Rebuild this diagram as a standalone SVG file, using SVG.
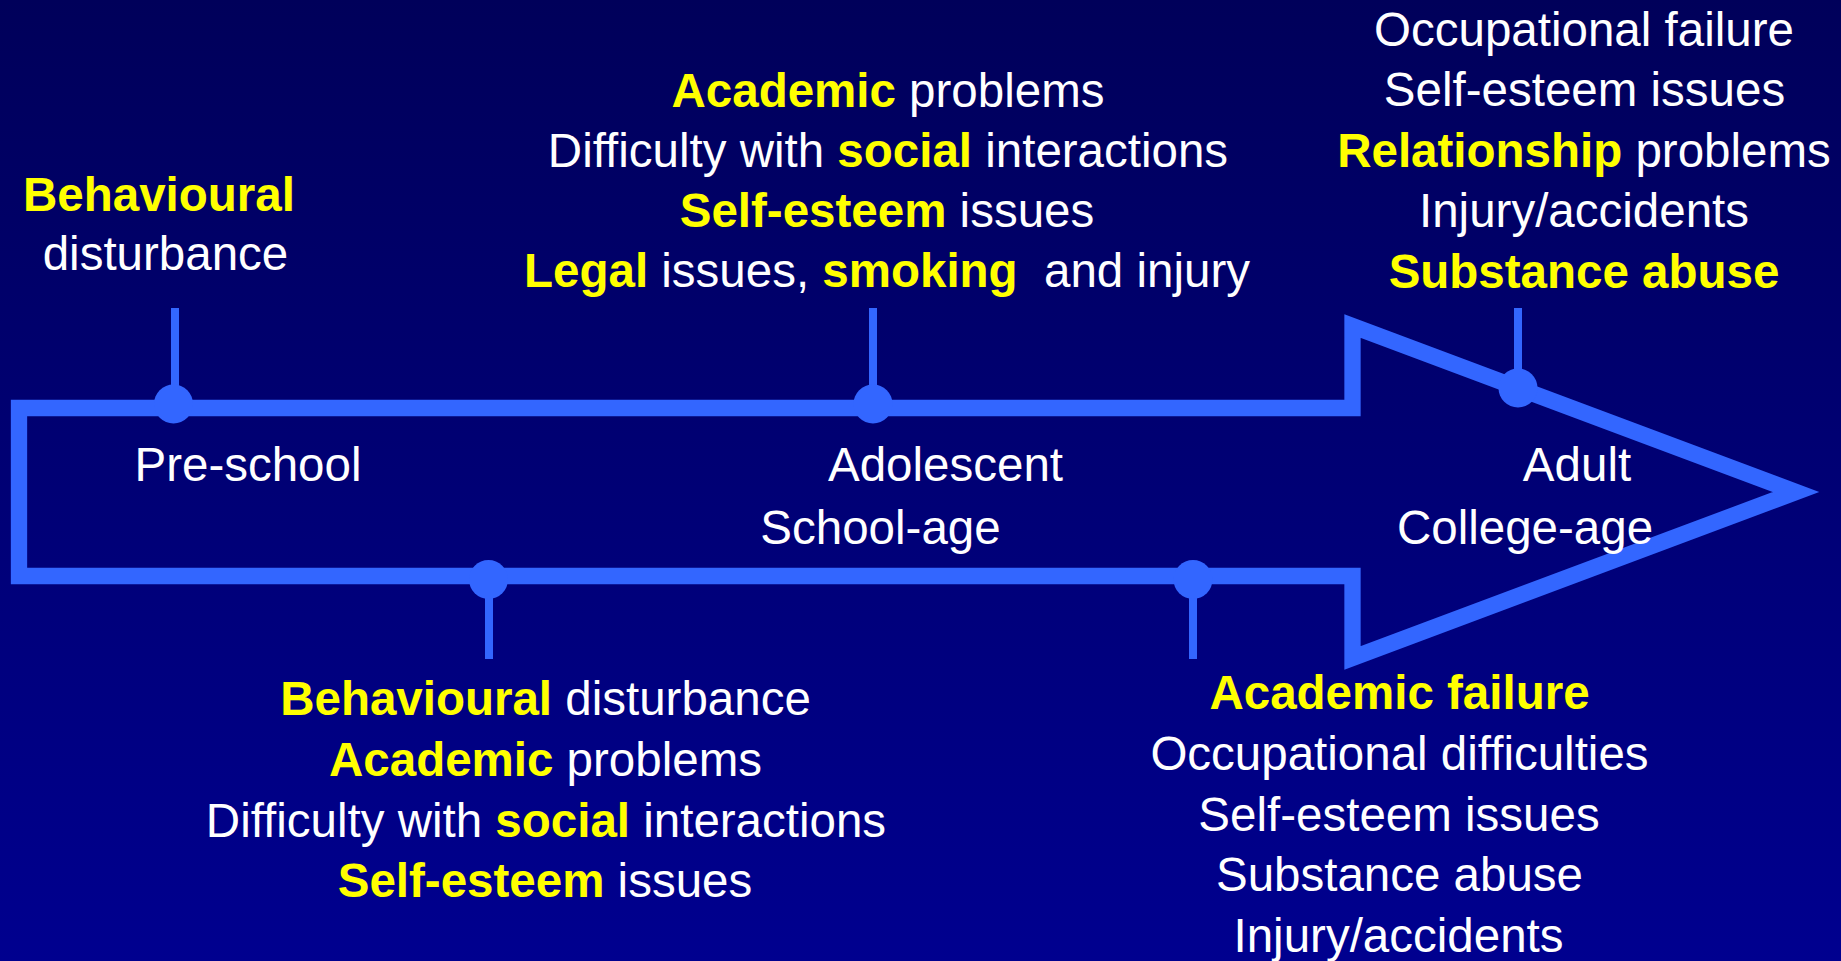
<svg xmlns="http://www.w3.org/2000/svg" width="1841" height="961" viewBox="0 0 1841 961">
  <defs>
    <linearGradient id="bg" x1="0" y1="0" x2="0" y2="1">
      <stop offset="0" stop-color="#00005a"/>
      <stop offset="1" stop-color="#00008f"/>
    </linearGradient>
    <style>
      text { font-family: "Liberation Sans", Arial, Helvetica, sans-serif; font-size: 47.5px; fill: #ffffff; text-anchor: middle; }
      .hl { fill: #ffff00; font-weight: bold; }
      .arrow { fill: none; stroke: #3366ff; stroke-width: 16.3; stroke-linejoin: miter; stroke-miterlimit: 10; }
      .tick { stroke: #3366ff; stroke-width: 8; fill: none; }
      .dot { fill: #3366ff; }
    </style>
  </defs>

  <rect x="0" y="0" width="1841" height="961" fill="url(#bg)"/>

  <!-- timeline arrow outline -->
  <g id="timeline">
    <path class="arrow" d="M19,408 H1352.5 V326 L1796,492 L1352.5,658 V576 H19 Z"/>
  </g>

  <!-- ticks joining each milestone dot to its list of outcomes -->
  <g id="connectors">
    <line class="tick" x1="175" y1="308" x2="175" y2="404"/>
    <line class="tick" x1="873" y1="308" x2="873" y2="404"/>
    <line class="tick" x1="1518" y1="308" x2="1518" y2="388"/>
    <line class="tick" x1="489" y1="579" x2="489" y2="659"/>
    <line class="tick" x1="1193" y1="579" x2="1193" y2="659"/>
    <circle class="dot" cx="173.5" cy="404" r="19.5"/>
    <circle class="dot" cx="873" cy="404" r="19.5"/>
    <circle class="dot" cx="1518" cy="388" r="19.5"/>
    <circle class="dot" cx="488.5" cy="579.5" r="19.5"/>
    <circle class="dot" cx="1193" cy="579.5" r="19.5"/>
  </g>

  <!-- stage labels inside the arrow -->
  <g id="stage-preschool">
    <text x="248" y="481">Pre-school</text>
  </g>
  <g id="stage-schoolage">
    <text x="880.5" y="543.5">School-age</text>
  </g>
  <g id="stage-adolescent">
    <text x="945.5" y="481">Adolescent</text>
  </g>
  <g id="stage-collegeage">
    <text x="1525" y="543.5">College-age</text>
  </g>
  <g id="stage-adult">
    <text x="1577" y="481">Adult</text>
  </g>

  <!-- outcome lists -->
  <g id="outcomes-preschool">
    <text x="159" y="211"><tspan class="hl">Behavioural</tspan></text>
    <text x="165.5" y="270">disturbance</text>
  </g>

  <g id="outcomes-schoolage">
    <text x="545.5" y="715"><tspan class="hl">Behavioural</tspan> disturbance</text>
    <text x="545.5" y="776"><tspan class="hl">Academic</tspan> problems</text>
    <text x="546" y="837">Difficulty with <tspan class="hl">social</tspan> interactions</text>
    <text x="545" y="897"><tspan class="hl">Self-esteem</tspan> issues</text>
  </g>

  <g id="outcomes-adolescent">
    <text x="888" y="107"><tspan class="hl">Academic</tspan> problems</text>
    <text x="888" y="167">Difficulty with <tspan class="hl">social</tspan> interactions</text>
    <text x="887" y="227"><tspan class="hl">Self-esteem</tspan> issues</text>
    <text x="887" y="287" xml:space="preserve"><tspan class="hl">Legal</tspan> issues, <tspan class="hl">smoking</tspan>  and injury</text>
  </g>

  <g id="outcomes-collegeage">
    <text x="1399.5" y="709"><tspan class="hl">Academic failure</tspan></text>
    <text x="1399.5" y="770">Occupational difficulties</text>
    <text x="1399" y="831">Self-esteem issues</text>
    <text x="1399.5" y="891">Substance abuse</text>
    <text x="1398.5" y="952">Injury/accidents</text>
  </g>

  <g id="outcomes-adult">
    <text x="1584" y="45.5">Occupational failure</text>
    <text x="1584.5" y="106">Self-esteem issues</text>
    <text x="1584" y="166.5"><tspan class="hl">Relationship</tspan> problems</text>
    <text x="1584" y="227">Injury/accidents</text>
    <text x="1584" y="287.5"><tspan class="hl">Substance abuse</tspan></text>
  </g>
</svg>
